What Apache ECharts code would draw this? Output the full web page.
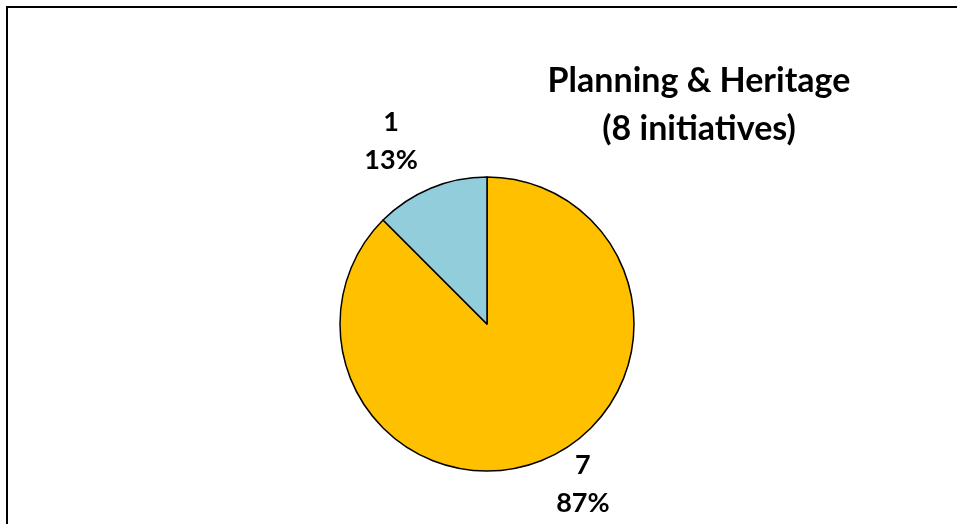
<!DOCTYPE html>
<html>
<head>
<meta charset="utf-8">
<script src="https://cdn.jsdelivr.net/npm/echarts@6/dist/echarts.min.js"></script>
<style>
  html, body { margin: 0; padding: 0; background: #fff; }
  #chart { width: 957px; height: 524px; }
</style>
</head>
<body>
<div id="chart"></div>
<script>
// data
var names = ['Yes', 'No'];
var values = [7, 1];
var percentLabels = ['87%', '13%'];
var colors = ['#FFC000', '#92CDDC'];
var titleText = 'Planning & Heritage\n(8 initiatives)';

var chart = echarts.init(document.getElementById('chart'));

var pieData = names.map(function (n, i) {
  return { name: n, value: values[i], itemStyle: { color: colors[i] } };
});

chart.setOption({
  animation: false,
  title: {
    text: titleText,
    left: 694,
    top: 52,
    textAlign: 'center',
    textStyle: {
      fontFamily: 'Lato',
      fontWeight: 'bold',
      fontSize: 34,
      lineHeight: 48,
      color: '#000'
    }
  },
  graphic: [{
    type: 'rect',
    shape: { x: 7, y: 7, width: 1000, height: 600 },
    style: { fill: 'none', stroke: '#000', lineWidth: 2 },
    silent: true
  }],
  series: [{
    type: 'pie',
    center: [487, 324],
    radius: 147,
    startAngle: 90,
    clockwise: true,
    data: pieData,
    itemStyle: { borderColor: '#000', borderWidth: 1.5 },
    label: {
      show: true,
      position: 'outside',
      formatter: function (p) {
        return p.value + '\n' + percentLabels[p.dataIndex];
      },
      fontFamily: 'Lato',
      fontWeight: 'bold',
      fontSize: 27,
      lineHeight: 38,
      color: '#000',
      align: 'center'
    },
    labelLine: { show: false, length: 20, length2: 0 },
    labelLayout: function (p) {
      return p.dataIndex === 1
        ? { align: 'center', dx: -27, dy: -28 }
        : { align: 'center', dx: 27, dy: 6 };
    },
    emphasis: { disabled: true }
  }]
});
</script>
</body>
</html>
